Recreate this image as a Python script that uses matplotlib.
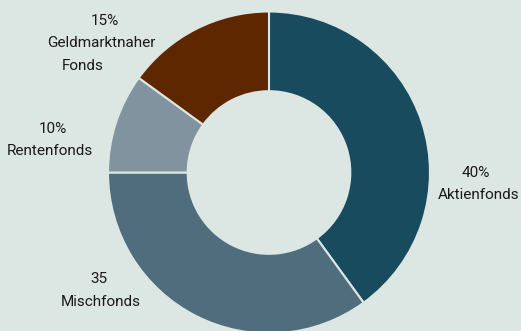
import matplotlib
matplotlib.use("Agg")
import matplotlib.pyplot as plt

categories = ["Aktienfonds", "Mischfonds", "Rentenfonds", "Geldmarktnaher\nFonds"]
values = [40, 35, 10, 15]
value_labels = ["40%", "35", "10%", "15%"]
colors = ["#174b5d", "#4f6d7d", "#81939f", "#5e2700"]
bg = "#dce6e2"

plt.rcParams['font.family'] = ['Roboto', 'DejaVu Sans']

fig = plt.figure(figsize=(5.21, 3.31), dpi=100, facecolor=bg)
ax = fig.add_axes([0, 0, 1, 1])
ax.set_facecolor(bg)

cx, cy, R = 269, 331 - 172.5, 161
ax.pie(values, colors=colors, startangle=90, counterclock=False,
       center=(cx, cy), radius=R, frame=True,
       wedgeprops=dict(width=R * 0.495, edgecolor=bg, linewidth=1.5))
ax.set_xlim(0, 521)
ax.set_ylim(0, 331)
ax.set_aspect('equal')
ax.axis('off')

# per-line label placement (x centre, y from top) in pixels
line_pos = [
    [(476, 172.7), (479, 195)],
    [(99, 279), (101, 302)],
    [(53, 129), (50, 151)],
    [(105, 20.7), (101, 43.3), (83, 66)],
]
for lines_xy, cat, vl in zip(line_pos, categories, value_labels):
    lines = [vl] + cat.split("\n")
    for (x, y), t in zip(lines_xy, lines):
        ax.text(x, 331 - y, t, ha='center', va='center', fontsize=11,
                color='#1a1a1a')

fig.savefig("out.png", dpi=100, facecolor=bg)
